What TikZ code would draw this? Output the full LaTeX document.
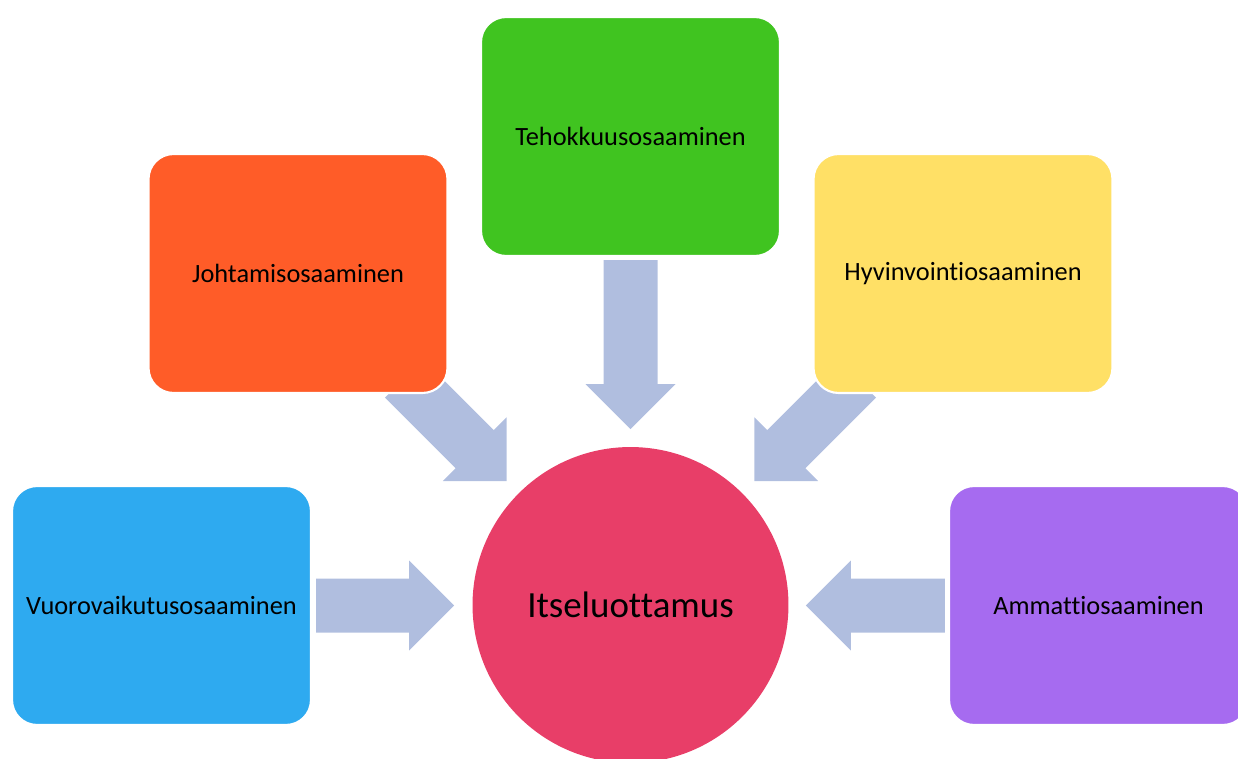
\documentclass[tikz,border=0pt]{standalone}
\usepackage{fontspec}
\setmainfont{Carlito}[Ligatures=NoCommon]
\usetikzlibrary{calc,backgrounds}

\definecolor{vihrea}{HTML}{40C420}
\definecolor{oranssi}{HTML}{FF5C28}
\definecolor{keltainen}{HTML}{FFE066}
\definecolor{sininen}{HTML}{2EAAF0}
\definecolor{violetti}{HTML}{A66BF0}
\definecolor{punainen}{HTML}{E83E68}
\definecolor{nuolisin}{HTML}{B0BEDF}

\tikzset{
  laatikko/.style={rectangle, rounded corners=0.5cm, draw=white, line width=1.2pt,
    minimum width=5.98cm, minimum height=4.78cm, inner sep=0pt,
    font=\fontsize{15}{18}\selectfont},
  pallo/.style={circle, fill=punainen, minimum size=6.32cm, inner sep=0pt,
    font=\fontsize{21}{25}\selectfont},
  pics/blokki/.style={code={
    \fill[nuolisin] (0,-27) -- (#1-45,-27) -- (#1-45,-45) -- (#1,0)
      -- (#1-45,45) -- (#1-45,27) -- (0,27) -- cycle;}}
}

\begin{document}
\begin{tikzpicture}[x=0.02cm, y=-0.02cm]
  \useasboundingbox (0,0) rectangle (1238,758);

  % osaamisalueet
  \node[laatikko, fill=vihrea] (teho) at (630.5,136.5) {Tehokkuusosaaminen};
  \node[laatikko, fill=oranssi] (johta) at (298,273.5) {Johtamisosaaminen};
  \node[laatikko, fill=keltainen] (hyvin) at (963,273.5) {Hyvinvointiosaaminen};
  \node[laatikko, fill=sininen] (vuoro) at (161.5,605.5) {Vuorovaikutusosaaminen};
  \node[laatikko, fill=violetti] (ammatti) at (1098.5,605.5) {Ammattiosaaminen};

  \node[pallo] (itse) at (630.5,605) {Itseluottamus};

  % nuolet keskelle, laatikoiden alle
  \begin{pgfonlayer}{background}
    \pic at ($(vuoro.east)+(4,0)$) {blokki=138};
    \pic[rotate=180] at ($(ammatti.west)+(-3,0)$) {blokki=139};
    \pic[rotate=-90] at ($(teho.south)+(0,3)$) {blokki=169};
    \pic[rotate=-45] at ($(johta.south east)+(-44.5,-15.5)$) {blokki=145};
    \pic[rotate=-135] at ($(hyvin.south west)+(44.5,-15.5)$) {blokki=145};
  \end{pgfonlayer}
\end{tikzpicture}
\end{document}
